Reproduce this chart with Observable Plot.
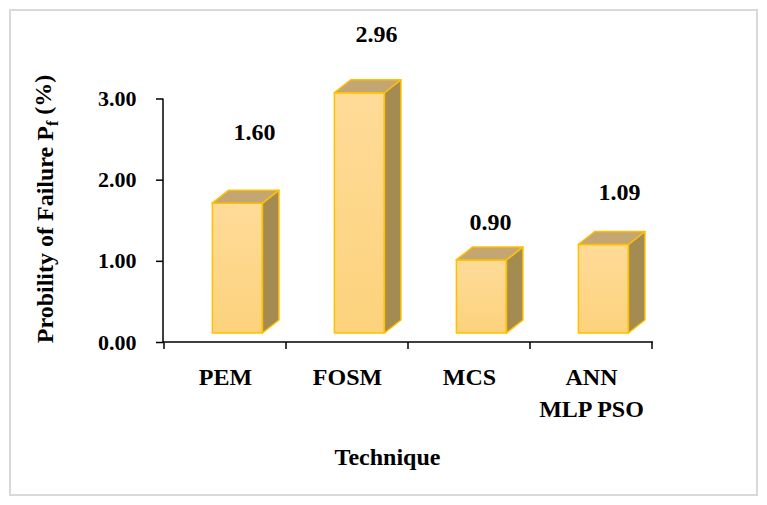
<!DOCTYPE html>
<html>
<head>
<meta charset="utf-8">
<script src="https://cdn.jsdelivr.net/npm/d3@7"></script>
<script src="https://cdn.jsdelivr.net/npm/@observablehq/plot@0.6"></script>
<style>
  html, body { margin: 0; padding: 0; background: #fff; }
  #chart svg { display: block; }
</style>
</head>
<body>
<div id="chart"></div>
<script>
// ---- data ----
const categories = ["PEM", "FOSM", "MCS", "ANN\nMLP PSO"];
const values = [1.60, 2.96, 0.90, 1.09];
const valueLabels = ["1.60", "2.96", "0.90", "1.09"];
const yTicks = [0, 1, 2, 3];
const xTitle = "Technique";
const yTitleMain = "Probility of Failure P";
const yTitleSub = "f";
const yTitleEnd = " (%)";

// ---- styles ----
const labelDx = [29, 29, 21, 28];
const labelDy = [-80, -68, -47, -62];
const FONT = "'Liberation Serif', 'Times New Roman', serif";
const W = 767, H = 505;
const M = {left: 163, right: 114, top: 98.5, bottom: 163};
const lift = 9, depthX = 16.5, depthY = -13;
const faceL = 0.395, faceR = 0.807;
const outline = "#FFC000";

const data = categories.map((c, i) => ({c, v: values[i], label: valueLabels[i]}));

const bandW = (W - M.left - M.right) / categories.length;

const defsMark = () => {
  const defs = d3.create("svg:defs");
  const g = defs.append("linearGradient").attr("id", "frontGrad")
    .attr("x1", 0).attr("y1", 0).attr("x2", 0).attr("y2", 1);
  g.append("stop").attr("offset", "0%").attr("stop-color", "#FFDB98");
  g.append("stop").attr("offset", "100%").attr("stop-color", "#FCD27C");
  return defs.node();
};

const depthFaces = (index, scales, vals, dims) => {
  const x = scales.x, y = scales.y;
  const bw = (x.bandwidth ? x.bandwidth() : bandW);
  const g = d3.create("svg:g");
  for (const d of data) {
    const x0 = x(d.c) + faceL * bw, x1 = x(d.c) + faceR * bw;
    const yb = y(0) - lift, yt = y(d.v) - lift;
    g.append("path")
      .attr("d", `M${x1},${yb}L${x1 + depthX},${yb + depthY}L${x1 + depthX},${yt + depthY}L${x1},${yt}Z`)
      .attr("fill", "#A38B52").attr("stroke", outline).attr("stroke-width", 1.5).attr("stroke-linejoin", "round");
    g.append("path")
      .attr("d", `M${x0},${yt}L${x0 + depthX},${yt + depthY}L${x1 + depthX},${yt + depthY}L${x1},${yt}Z`)
      .attr("fill", "#C4A672").attr("stroke", outline).attr("stroke-width", 1.5).attr("stroke-linejoin", "round");
  }
  return g.node();
};

const axesLines = (index, scales, vals, dims) => {
  const x = scales.x, y = scales.y;
  const bw = (x.bandwidth ? x.bandwidth() : bandW);
  const g = d3.create("svg:g").attr("stroke", "#000").attr("stroke-width", 1.5).attr("fill", "none");
  g.append("line").attr("x1", dims.marginLeft).attr("x2", dims.marginLeft)
    .attr("y1", y(3)).attr("y2", y(0));
  g.append("line").attr("x1", dims.marginLeft).attr("x2", dims.width - dims.marginRight)
    .attr("y1", y(0)).attr("y2", y(0));
  const bounds = categories.map(c => x(c)).concat([x(categories[categories.length - 1]) + bw]);
  for (const b of bounds) {
    g.append("line").attr("x1", b).attr("x2", b).attr("y1", y(0)).attr("y2", y(0) + 7);
  }
  g.append("rect").attr("x", 10).attr("y", 10).attr("width", W - 20).attr("height", H - 20)
    .attr("stroke", "#D9D9D9").attr("stroke-width", 2);
  return g.node();
};

const valueLabelMarks = data.map((d, i) =>
  Plot.text([d], {x: "c", y: "v", text: "label", dx: labelDx[i], dy: labelDy[i],
    fontSize: 24, fontWeight: "bold", fill: "#000"})
);

const chart = Plot.plot({
  width: W,
  height: H,
  marginLeft: M.left,
  marginRight: M.right,
  marginTop: M.top,
  marginBottom: M.bottom,
  style: {fontFamily: FONT, fontWeight: "bold", fontSize: "22px", background: "#fff", color: "#000"},
  x: {domain: categories, padding: 0, axis: null},
  y: {domain: [0, 3], axis: null},
  marks: [
    defsMark,
    Plot.axisY({ticks: yTicks, tickFormat: d => d.toFixed(2), tickSize: 7, tickPadding: 20,
      fontSize: 22, fontWeight: "bold", label: null, stroke: "#000", strokeWidth: 1.5}),
    Plot.barY(data, {x: "c", y: "v", dy: -lift,
      insetLeft: faceL * bandW, insetRight: (1 - faceR) * bandW,
      fill: "url(#frontGrad)", stroke: outline, strokeWidth: 1.5}),
    depthFaces,
    axesLines,
    ...valueLabelMarks,
    Plot.text(categories, {x: d => d, text: d => d, frameAnchor: "bottom", lineAnchor: "top",
      dy: 20, lineHeight: 1.33, fontSize: 24, fontWeight: "bold", fill: "#000"}),
    Plot.text([xTitle], {frameAnchor: "bottom", lineAnchor: "top", dx: -21, dy: 105,
      fontSize: 24, fontWeight: "bold", fill: "#000"})
  ]
});
document.getElementById("chart").appendChild(chart);

const svg = d3.select(chart);
const yt = svg.append("text")
  .attr("transform", "translate(53,209) rotate(-90)")
  .attr("text-anchor", "middle")
  .attr("font-family", FONT).attr("font-weight", "bold").attr("font-size", 24).attr("fill", "#000");
yt.append("tspan").text(yTitleMain);
yt.append("tspan").attr("font-size", 16).attr("dy", "0.3em").text(yTitleSub);
yt.append("tspan").attr("dy", "-0.3em").text(yTitleEnd);
</script>
</body>
</html>
